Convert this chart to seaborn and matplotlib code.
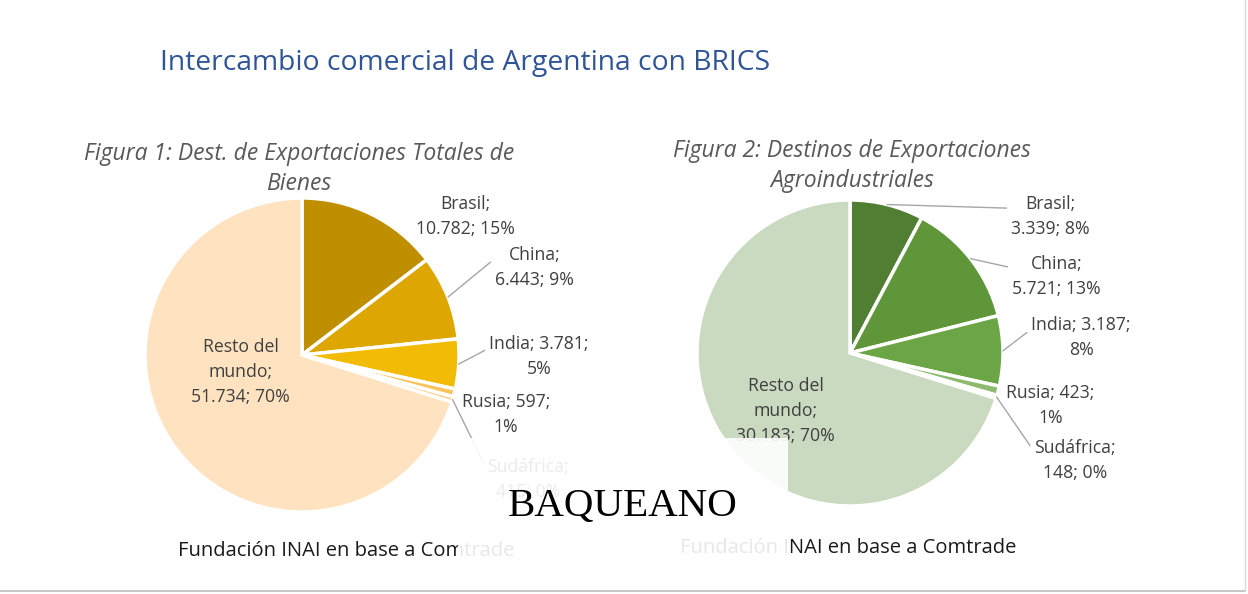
import matplotlib
matplotlib.use("Agg")
import matplotlib.pyplot as plt
import numpy as np
import seaborn as sns
from matplotlib.lines import Line2D
from matplotlib.patches import Rectangle

# data
categories = ["Brasil", "China", "India", "Rusia", "Sudáfrica", "Resto del mundo"]
total_values = [10782, 6443, 3781, 597, 415, 51734]
total_pcts = [15, 9, 5, 1, 0, 70]
agro_values = [3339, 5721, 3187, 423, 148, 30183]
agro_pcts = [8, 13, 8, 1, 0, 70]

title = "Intercambio comercial de Argentina con BRICS"
subtitle_total = "Figura 1: Dest. de Exportaciones Totales de\nBienes"
subtitle_agro = "Figura 2: Destinos de Exportaciones\nAgroindustriales"
source = "Fundación INAI en base a Comtrade"

total_colors = ["#BF8F00", "#DDA600", "#F2BB05", "#F8C55C", "#FAD38E", "#FFE3C0"]
agro_colors = ["#507E32", "#5E9639", "#6BA545", "#8DBA6E", "#A9CD90", "#C9DAC0"]

# layout: label text shape, label centre (pie radius units), leader line or not
label_fmt = ["{n};\n{v}; {p}%", "{n};\n{v}; {p}%", "{n}; {v};\n{p}%",
             "{n}; {v};\n{p}%", "{n};\n{v}; {p}%", "{n};\n{v}; {p}%"]
total_pos = [(1.04, 0.88), (1.48, 0.56), (1.51, -0.01), (1.30, -0.38), (1.44, -0.79), (-0.39, -0.11)]
total_lead = [False, True, True, False, True, False]
agro_pos = [(1.31, 0.89), (1.35, 0.50), (1.51, 0.10), (1.31, -0.34), (1.47, -0.70), (-0.42, -0.38)]
agro_lead = [True, True, True, False, True, False]

W, H = 1248, 594
LABEL_SIZE = 12.7

sns.set_theme(style="white")
plt.rcParams["font.family"] = ["Open Sans", "DejaVu Sans"]

fig = plt.figure(figsize=(W / 100, H / 100), dpi=100)
fig.patch.set_facecolor("white")


def fmt_num(v):
    return f"{v:,}".replace(",", ".")


def draw_pie(cx, cy, r, values, pcts, colors, pos, lead):
    ax = fig.add_axes([(cx - r) / W, (H - cy - r) / H, 2 * r / W, 2 * r / H])
    wedges, _ = ax.pie(values, colors=colors, startangle=90, counterclock=False,
                       wedgeprops=dict(edgecolor="white", linewidth=2.5))
    ax.set_xlim(-1, 1)
    ax.set_ylim(-1, 1)
    ax.set_axis_off()
    for i, w in enumerate(wedges):
        name = categories[i].replace("del mundo", "del\nmundo")
        txt = label_fmt[i].format(n=name, v=fmt_num(values[i]), p=pcts[i])
        if lead[i]:
            ang = np.deg2rad((w.theta1 + w.theta2) / 2)
            ax.annotate(txt, xy=(np.cos(ang), np.sin(ang)), xytext=pos[i],
                        ha="center", va="center", fontsize=LABEL_SIZE, color="#404040",
                        linespacing=1.5, annotation_clip=False,
                        arrowprops=dict(arrowstyle="-", color="#A6A6A6", lw=1,
                                        shrinkA=1, shrinkB=0, relpos=(0, 0.7)))
        else:
            ax.text(pos[i][0], pos[i][1], txt, ha="center", va="center",
                    fontsize=LABEL_SIZE, color="#404040", linespacing=1.5, clip_on=False)
    return ax


draw_pie(302, 355, 157, total_values, total_pcts, total_colors, total_pos, total_lead)
draw_pie(850, 353, 153, agro_values, agro_pcts, agro_colors, agro_pos, agro_lead)

fig.text(160 / W, 1 - 63 / H, title, ha="left", va="center", fontsize=20.3, color="#2F5597")
fig.text(299 / W, 1 - 169 / H, subtitle_total, ha="center", va="center", fontsize=16.5,
         style="italic", color="#595959", linespacing=1.3)
fig.text(852 / W, 1 - 166 / H, subtitle_agro, ha="center", va="center", fontsize=16.5,
         style="italic", color="#595959", linespacing=1.3)
fig.text(178 / W, 1 - 551 / H, source, ha="left", va="center", fontsize=14.5, color="#1A1A1A")
fig.text(680 / W, 1 - 548 / H, source, ha="left", va="center", fontsize=14.5, color="#1A1A1A")

# washed-out watermark patch and logo
fig.patches.append(Rectangle((458 / W, 1 - 572 / H), 330 / W, 134 / H, transform=fig.transFigure,
                             facecolor="white", alpha=0.9, edgecolor="none", zorder=5))
fig.text(623 / W, 1 - 506 / H, "BAQUEANO", ha="center", va="center", fontsize=29.5,
         family="Liberation Serif", color="black", zorder=6)

# frame lines at right and bottom
fig.add_artist(Line2D([0, 1245 / W], [1 - 591 / H] * 2, color="#C8C8C8", lw=1.5))
fig.add_artist(Line2D([1245 / W] * 2, [1 - 591 / H, 1], color="#D9D9D9", lw=1))

fig.savefig("out.png", dpi=100)
